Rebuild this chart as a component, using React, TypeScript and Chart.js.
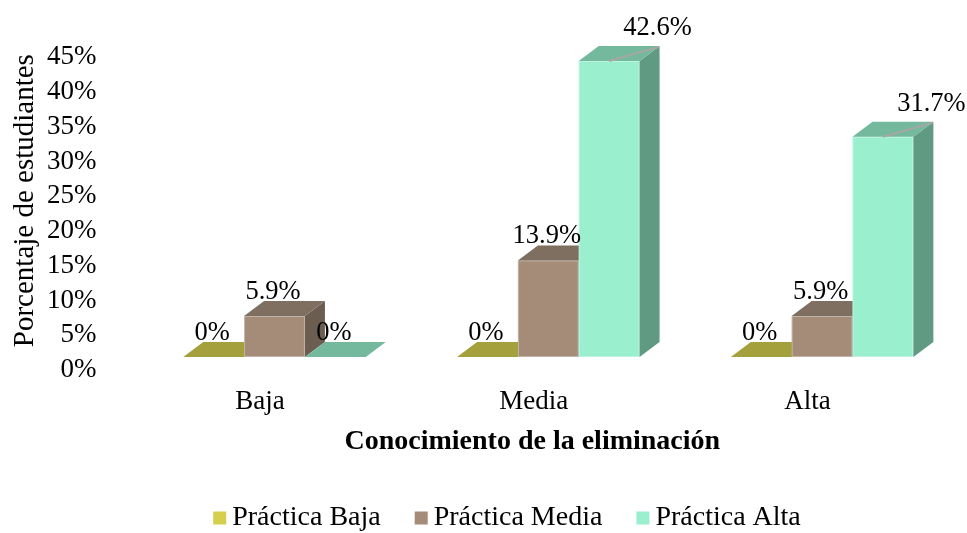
import React, { useEffect, useRef } from "react";
import { Chart, registerables } from "chart.js";

Chart.register(...registerables);

// Categories and series
const categories = ["Baja", "Media", "Alta"];
const seriesNames = ["Práctica Baja", "Práctica Media", "Práctica Alta"];
const practicaBaja = [0, 0, 0];
const practicaMedia = [5.9, 13.9, 5.9];
const practicaAlta = [0, 42.6, 31.7];

// Value axis
const yMin = 0;
const yMax = 45;
const yStep = 5;

// Face colours per series: front, top, side
const frontColors = ["#D5CF4D", "#A58C79", "#9AEFCF"];
const topColors = ["#A4A03C", "#7E6F60", "#74B99D"];
const sideColors = ["#8A8733", "#6B5D50", "#619A82"];

const SERIF = "'Liberation Serif', 'Times New Roman', serif";
const DEPTH_X = 20;
const DEPTH_Y = -15;

const fmt = (v: number) => (v === 0 ? "0%" : v.toFixed(1) + "%");

function poly(ctx: CanvasRenderingContext2D, pts: number[][], color: string) {
  ctx.beginPath();
  ctx.moveTo(pts[0][0], pts[0][1]);
  for (let i = 1; i < pts.length; i++) ctx.lineTo(pts[i][0], pts[i][1]);
  ctx.closePath();
  ctx.fillStyle = color;
  ctx.fill();
}

// Draws each bar as a box (front, top and right faces) plus its value label
const boxBars = {
  id: "boxBars",
  beforeDatasetDraw() {
    return false;
  },
  afterDatasetsDraw(chart: any) {
    const ctx: CanvasRenderingContext2D = chart.ctx;
    const labels: { text: string; x: number; y: number; leader?: number[] }[] = [];
    ctx.save();
    chart.data.datasets.forEach((ds: any, di: number) => {
      const meta = chart.getDatasetMeta(di);
      meta.data.forEach((el: any, i: number) => {
        const { x, y, base, width } = el.getProps(["x", "y", "base", "width"], true);
        const l = x - width / 2;
        const r = x + width / 2;
        if (base - y > 0.5) {
          ctx.fillStyle = frontColors[di];
          ctx.fillRect(l, y, width, base - y);
          ctx.strokeStyle = "rgba(255,255,255,0.35)";
          ctx.lineWidth = 1;
          ctx.strokeRect(l + 0.5, y + 0.5, width - 1, base - y - 1);
          poly(ctx, [[r, y], [r + DEPTH_X, y + DEPTH_Y], [r + DEPTH_X, base + DEPTH_Y], [r, base]], sideColors[di]);
        }
        poly(ctx, [[l, y], [r, y], [r + DEPTH_X, y + DEPTH_Y], [l + DEPTH_X, y + DEPTH_Y]], topColors[di]);

        const v = ds.data[i] as number;
        if (v >= 20) {
          labels.push({
            text: fmt(v),
            x: r + DEPTH_X - 2,
            y: y + DEPTH_Y - 11,
            leader: [x, y, r + DEPTH_X - 1, y + DEPTH_Y + 1],
          });
        } else {
          labels.push({ text: fmt(v), x: x - 1.5, y: y + DEPTH_Y - 2.5 });
        }
      });
    });

    ctx.font = `26.5px ${SERIF}`;
    ctx.textAlign = "center";
    ctx.textBaseline = "alphabetic";
    labels.forEach((lb) => {
      if (lb.leader) {
        ctx.strokeStyle = "#A6A6A6";
        ctx.lineWidth = 2;
        ctx.beginPath();
        ctx.moveTo(lb.leader[0], lb.leader[1]);
        ctx.lineTo(lb.leader[2], lb.leader[3]);
        ctx.stroke();
      }
      ctx.fillStyle = "#000";
      ctx.fillText(lb.text, lb.x, lb.y);
    });
    ctx.restore();
  },
};

// Category axis title and legend below the plot
const bottomTexts = {
  id: "bottomTexts",
  afterDraw(chart: any) {
    const ctx: CanvasRenderingContext2D = chart.ctx;
    const area = chart.chartArea;
    ctx.save();
    ctx.fillStyle = "#000";
    ctx.font = `bold 28px ${SERIF}`;
    ctx.textAlign = "center";
    ctx.textBaseline = "alphabetic";
    ctx.fillText("Conocimiento de la eliminación", (area.left + area.right) / 2 - 16, 449);

    ctx.font = `28px ${SERIF}`;
    const box = 13;
    const gap = 6;
    const spacing = 34;
    const widths = seriesNames.map((n) => ctx.measureText(n).width);
    const total = widths.reduce((a, w) => a + box + gap + w, 0) + spacing * (seriesNames.length - 1);
    let cx = 507 - total / 2;
    const cy = 518;
    ctx.textAlign = "left";
    ctx.textBaseline = "middle";
    seriesNames.forEach((n, i) => {
      ctx.fillStyle = frontColors[i];
      ctx.fillRect(cx, cy - box / 2, box, box);
      ctx.fillStyle = "#000";
      ctx.fillText(n, cx + box + gap, cy);
      cx += box + gap + widths[i] + spacing;
    });
    ctx.restore();
  },
};

export default function App() {
  const canvasRef = useRef<HTMLCanvasElement | null>(null);

  useEffect(() => {
    if (!canvasRef.current) return;
    Chart.defaults.color = "#000";
    const chart = new Chart(canvasRef.current, {
      type: "bar",
      data: {
        labels: categories,
        datasets: [
          { label: seriesNames[0], data: practicaBaja, backgroundColor: frontColors[0] },
          { label: seriesNames[1], data: practicaMedia, backgroundColor: frontColors[1] },
          { label: seriesNames[2], data: practicaAlta, backgroundColor: frontColors[2] },
        ],
      },
      options: {
        animation: false,
        responsive: false,
        events: [],
        layout: { padding: { top: 44.3, right: 8, bottom: 0, left: 0 } },
        datasets: { bar: { categoryPercentage: 2 / 3, barPercentage: 1 } },
        plugins: {
          legend: { display: false },
          tooltip: { enabled: false },
        },
        scales: {
          x: {
            grid: { display: false, drawTicks: false },
            border: { display: false },
            ticks: { font: { family: SERIF, size: 27 }, padding: 29, labelOffset: -14.5, color: "#000", autoSkip: false },
            afterFit: (s: any) => {
              s.height = 176;
              s.paddingLeft = 0;
              s.paddingRight = 0;
            },
          },
          y: {
            min: yMin,
            max: yMax,
            grid: { display: false, drawTicks: false },
            border: { display: false },
            ticks: {
              stepSize: yStep,
              autoSkip: false,
              font: { family: SERIF, size: 27 },
              padding: 41,
              labelOffset: 13,
              color: "#000",
              callback: (v: any) => v + "%",
            },
            title: {
              display: true,
              text: "Porcentaje de estudiantes",
              font: { family: SERIF, size: 29 },
              padding: { top: 8, bottom: 0 },
              color: "#000",
            },
            afterFit: (s: any) => {
              s.width = 137.6;
              s.paddingTop = 0;
              s.paddingBottom = 0;
            },
          },
        },
      },
      plugins: [boxBars, bottomTexts],
    });
    return () => chart.destroy();
  }, []);

  return (
    <div style={{ position: "fixed", left: 0, top: 0, width: 967, height: 533, background: "#fff" }}>
      <canvas ref={canvasRef} width={967} height={533} style={{ display: "block" }} />
    </div>
  );
}
